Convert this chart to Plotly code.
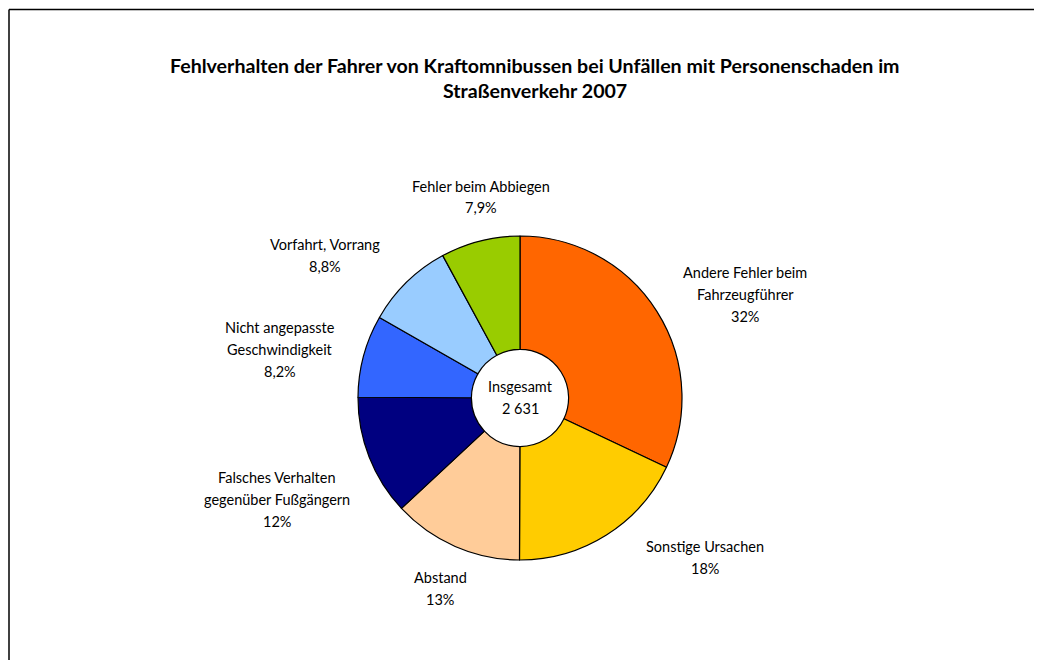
import plotly.graph_objects as go

W, H = 1042, 660
OFF = 8  # page body margin in the browser

categories = [
    "Andere Fehler beim<br>Fahrzeugführer",
    "Sonstige Ursachen",
    "Abstand",
    "Falsches Verhalten<br>gegenüber Fußgängern",
    "Nicht angepasste<br>Geschwindigkeit",
    "Vorfahrt, Vorrang",
    "Fehler beim Abbiegen",
]
values = [32.0, 18.0, 13.0, 12.0, 8.2, 8.8, 7.9]
pct_labels = ["32%", "18%", "13%", "12%", "8,2%", "8,8%", "7,9%"]
colors = ["#FF6600", "#FFCC00", "#FFCC99", "#000080", "#3366FF", "#99CCFF", "#99CC00"]
title_lines = ["Fehlverhalten der Fahrer von Kraftomnibussen bei Unfällen mit Personenschaden im",
               "Straßenverkehr 2007"]
center_lines = ["Insgesamt", "2 631"]

FONT = "Lato, 'Liberation Sans', sans-serif"

cx, cy, r = 520 - OFF, 398 - OFF, 162

fig = go.Figure(go.Pie(
    labels=[c.replace("<br>", " ") for c in categories],
    values=values,
    sort=False,
    direction="clockwise",
    rotation=0,
    hole=0.30,
    marker=dict(colors=colors, line=dict(color="black", width=1.2)),
    textinfo="none",
    hoverinfo="label+percent",
    showlegend=False,
    domain=dict(x=[(cx - r) / W, (cx + r) / W], y=[(H - cy - r) / H, (H - cy + r) / H]),
))

def px_ann(x, y, text, size=14.5, bold=False):
    x -= OFF
    y -= OFF
    return dict(x=x / W, y=1 - y / H, xref="paper", yref="paper", text=("<b>%s</b>" % text) if bold else text,
                showarrow=False, xanchor="center", yanchor="middle",
                font=dict(family=FONT, size=size, color="black"))

anns = []
# title
anns.append(px_ann(535, 65, title_lines[0], size=19.6, bold=True))
anns.append(px_ann(535, 90, title_lines[1], size=19.6, bold=True))
# center text
anns.append(px_ann(520, 386, center_lines[0]))
anns.append(px_ann(520, 408, center_lines[1]))

# label anchor positions (center x, first-line y) in page pixels
label_pos = [(745, 272), (705, 546), (440, 577), (277, 477), (280, 327), (325, 244), (481, 186)]
line_gap = 22
for cat, pct, (lx, ly) in zip(categories, pct_labels, label_pos):
    lines = cat.split("<br>") + [pct]
    for i, ln in enumerate(lines):
        anns.append(px_ann(lx, ly + i * line_gap, ln))

border = dict(color="black", width=1.5)
fig.update_layout(
    width=W, height=H,
    margin=dict(l=0, r=0, t=0, b=0),
    paper_bgcolor="white", plot_bgcolor="white",
    annotations=anns,
    shapes=[
        dict(type="line", xref="paper", yref="paper", x0=1 / W, x1=1.1, y0=1 - 1.5 / H, y1=1 - 1.5 / H, line=border),
        dict(type="line", xref="paper", yref="paper", x0=1 / W, x1=1 / W, y0=-0.1, y1=1 - 1.5 / H, line=border),
    ],
)

fig.write_html("out.html")
